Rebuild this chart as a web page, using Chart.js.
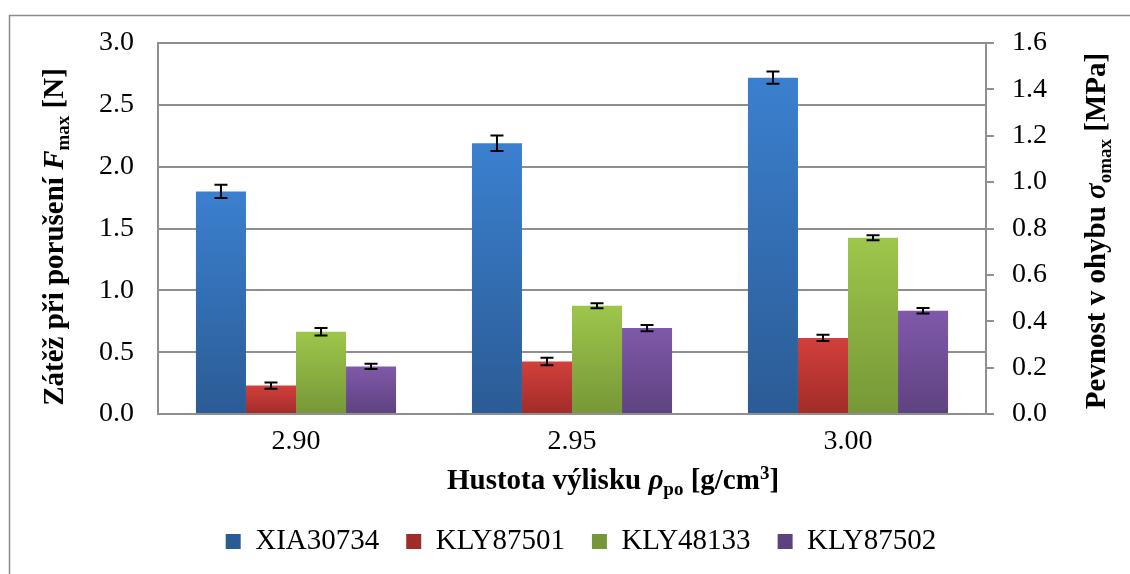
<!DOCTYPE html>
<html>
<head>
<meta charset="utf-8">
<script src="https://cdn.jsdelivr.net/npm/chart.js@4.4.1/dist/chart.umd.min.js"></script>
<style>
  html, body { margin: 0; padding: 0; background: #ffffff; }
  #wrap { width: 1130px; height: 574px; }
</style>
</head>
<body>
<div id="wrap"><canvas id="c" width="1130" height="574"></canvas></div>
<script>
// ---- data ----
const categories = ['2.90', '2.95', '3.00'];
const seriesNames = ['XIA30734', 'KLY87501', 'KLY48133', 'KLY87502'];
const xia30734 = [1.80, 2.19, 2.72];
const kly87501 = [0.23, 0.425, 0.615];
const kly48133 = [0.665, 0.875, 1.425];
const kly87502 = [0.385, 0.695, 0.835];
const xia30734Err = [0.053, 0.063, 0.05];
const kly87501Err = [0.025, 0.03, 0.025];
const kly48133Err = [0.03, 0.02, 0.02];
const kly87502Err = [0.022, 0.025, 0.022];
const leftTicks = [0, 0.5, 1.0, 1.5, 2.0, 2.5, 3.0];
const rightTicks = [0, 0.2, 0.4, 0.6, 0.8, 1.0, 1.2, 1.4, 1.6];

// colours (top, bottom, legend)
const palette = [
  ['#3b80cf', '#2b5b95', '#3a74bd'],
  ['#d2403c', '#a02c29', '#c23a36'],
  ['#9ec64b', '#769738', '#8eb443'],
  ['#8059aa', '#5e4280', '#71519a']
];

function gradFill(idx) {
  const [top, bottom, mid] = palette[idx];
  return (ctx) => {
    if (ctx.type !== 'data') return mid;
    const chart = ctx.chart;
    const ys = chart.scales && chart.scales.y;
    if (!ys || !chart.chartArea) return mid;
    const y0 = ys.getPixelForValue(0);
    const y1 = ys.getPixelForValue(ctx.raw);
    if (!isFinite(y0) || !isFinite(y1) || y0 === y1) return mid;
    const g = chart.ctx.createLinearGradient(0, y1, 0, y0);
    g.addColorStop(0, top);
    g.addColorStop(1, bottom);
    return g;
  };
}

const values = [xia30734, kly87501, kly48133, kly87502];
const errors = [xia30734Err, kly87501Err, kly48133Err, kly87502Err];

const serif = '"Liberation Serif", "Times New Roman", serif';

// outer frame + white background
const framePlugin = {
  id: 'frame',
  beforeDraw(chart) {
    const c = chart.ctx;
    c.save();
    c.fillStyle = '#ffffff';
    c.fillRect(0, 0, chart.width, chart.height);
    c.strokeStyle = '#8c8c8c';
    c.lineWidth = 1.5;
    c.strokeRect(9.5, 15.5, 1200, 700);
    c.restore();
  }
};

// error bars
const errorBarPlugin = {
  id: 'errorBars',
  afterDatasetsDraw(chart) {
    const c = chart.ctx;
    const ys = chart.scales.y;
    c.save();
    c.strokeStyle = '#000000';
    c.lineWidth = 2;
    chart.data.datasets.forEach((ds, i) => {
      const meta = chart.getDatasetMeta(i);
      meta.data.forEach((bar, j) => {
        const v = ds.data[j];
        const e = errors[i][j];
        const yt = ys.getPixelForValue(v + e);
        const yb = ys.getPixelForValue(v - e);
        const x = bar.x;
        const hw = 6.5;
        c.beginPath();
        c.moveTo(x, yt); c.lineTo(x, yb);
        c.moveTo(x - hw, yt); c.lineTo(x + hw, yt);
        c.moveTo(x - hw, yb); c.lineTo(x + hw, yb);
        c.stroke();
      });
    });
    c.restore();
  }
};

// axis titles with italic symbols and sub/superscripts
function drawRich(c, segs, cx, cy, angle) {
  c.save();
  c.translate(cx, cy);
  c.rotate(angle);
  let total = 0;
  segs.forEach(s => { c.font = s.font; s.w = c.measureText(s.t).width; total += s.w; });
  let x = -total / 2;
  c.fillStyle = '#000000';
  c.textBaseline = 'alphabetic';
  c.textAlign = 'left';
  segs.forEach(s => { c.font = s.font; c.fillText(s.t, x, s.dy || 0); x += s.w; });
  c.restore();
}

const titlePlugin = {
  id: 'richTitles',
  afterDraw(chart) {
    const c = chart.ctx;
    const B = 'bold 29px ' + serif;
    const BI = 'italic bold 29px ' + serif;
    const S = 'bold 19px ' + serif;
    // left axis title
    drawRich(c, [
      { t: 'Zátěž při porušení ', font: B },
      { t: 'F', font: BI },
      { t: 'max', font: S, dy: 6 },
      { t: ' [N]', font: B }
    ], 63, 237, -Math.PI / 2);
    // right axis title
    drawRich(c, [
      { t: 'Pevnost v ohybu ', font: B },
      { t: 'σ', font: BI },
      { t: 'omax', font: S, dy: 6 },
      { t: ' [MPa]', font: B }
    ], 1105, 231, -Math.PI / 2);
    // x axis title
    drawRich(c, [
      { t: 'Hustota výlisku ', font: B },
      { t: 'ρ', font: BI },
      { t: 'po', font: S, dy: 6 },
      { t: ' [g/cm', font: B },
      { t: '3', font: S, dy: -10 },
      { t: ']', font: B }
    ], 613, 489, 0);
  }
};

const gridGray = '#8f8f8f';

new Chart(document.getElementById('c'), {
  type: 'bar',
  data: {
    labels: categories,
    datasets: seriesNames.map((name, i) => ({
      label: name,
      data: values[i],
      backgroundColor: gradFill(i),
      borderWidth: 0,
      categoryPercentage: 0.725,
      barPercentage: 1.0,
      yAxisID: 'y'
    }))
  },
  options: {
    responsive: false,
    animation: false,
    events: [],
    layout: { padding: { top: 43, left: 42, right: 10, bottom: 8 } },
    plugins: {
      legend: {
        display: true,
        position: 'bottom',
        labels: {
          boxWidth: 15,
          boxHeight: 15,
          padding: 27,
          color: '#000000',
          font: { family: serif, size: 29 }
        }
      },
      tooltip: { enabled: false },
      title: { display: false }
    },
    scales: {
      x: {
        grid: { display: false, drawTicks: false },
        border: { display: true, color: gridGray, width: 2 },
        ticks: { color: '#000000', padding: 11, font: { family: serif, size: 28 } },
        afterFit(s) { s.height = 86; }
      },
      y: {
        position: 'left',
        min: 0,
        max: 3,
        afterBuildTicks(s) { s.ticks = leftTicks.map(v => ({ value: v })); },
        ticks: {
          color: '#000000',
          padding: 24,
          font: { family: serif, size: 28 },
          callback: (v) => Number(v).toFixed(1)
        },
        grid: { color: gridGray, lineWidth: 2, drawTicks: false },
        border: { display: true, color: gridGray, width: 2 },
        afterFit(s) { s.width = 158 - 42; }
      },
      y1: {
        position: 'right',
        display: true,
        min: 0,
        max: 1.6,
        afterBuildTicks(s) { s.ticks = rightTicks.map(v => ({ value: v })); },
        ticks: {
          color: '#000000',
          padding: 18,
          font: { family: serif, size: 28 },
          callback: (v) => Number(v).toFixed(1)
        },
        grid: { drawOnChartArea: false, drawTicks: true, tickLength: 8, color: gridGray, lineWidth: 2 },
        border: { display: true, color: gridGray, width: 2 },
        afterFit(s) { s.width = 1130 - 10 - 986; }
      }
    }
  },
  plugins: [framePlugin, errorBarPlugin, titlePlugin]
});
</script>
</body>
</html>
